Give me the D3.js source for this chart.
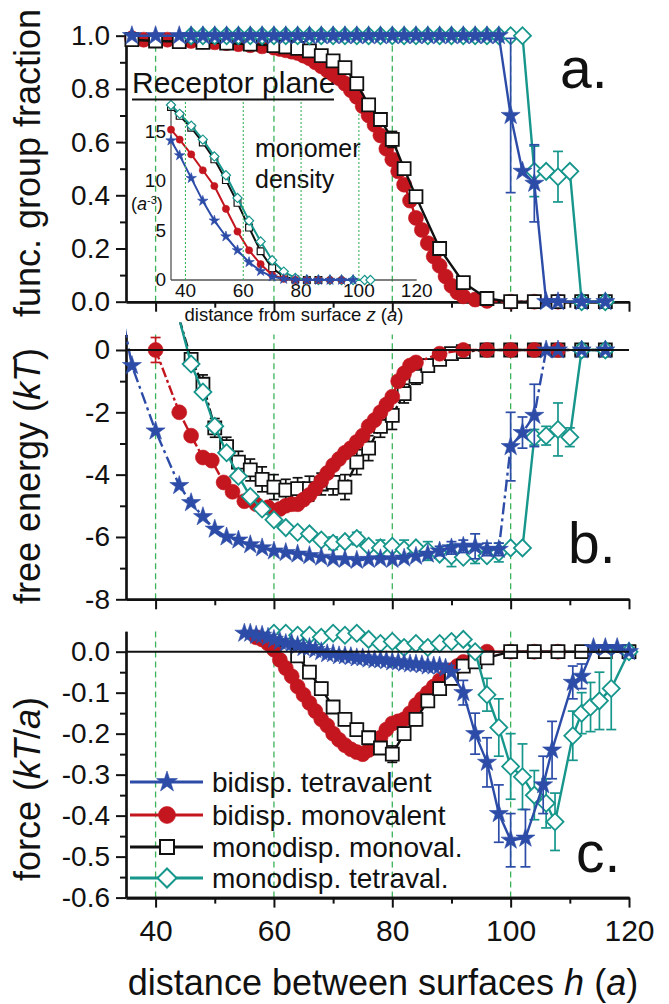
<!DOCTYPE html>
<html><head><meta charset="utf-8">
<script src="https://cdn.jsdelivr.net/npm/d3@7/dist/d3.min.js"></script>
<style>
html,body{margin:0;padding:0;background:#fff;}
svg{display:block;font-family:"Liberation Sans",Arial,Helvetica,sans-serif;}
</style></head>
<body>
<svg id="chart" width="669" height="1004"></svg>
<script>
// ---------------- data ----------------
const LEGEND_LABELS = ["bidisp. tetravalent","bidisp. monovalent","monodisp. monoval.","monodisp. tetraval."];
const X_MAJOR = [40,60,80,100,120];
const X_MINOR = [50,70,90,110];
const GUIDES = [40,60,80,100];
const A_TICKS = [0,0.2,0.4,0.6,0.8,1.0];
const A_MINOR = [0.1,0.3,0.5,0.7,0.9];
const B_TICKS = [0,-2,-4,-6,-8];
const B_MINOR = [-1,-3,-5,-7];
const C_TICKS = [0,-0.1,-0.2,-0.3,-0.4,-0.5,-0.6];
const C_MINOR = [-0.05,-0.15,-0.25,-0.35,-0.45,-0.55];
const INSET_XTICKS = [40,60,80,100,120];
const INSET_YTICKS = [0,5,10,15];
const INSET_GUIDES = [40,60,80,100];

// panel a: functional group fraction  [h, value, err]
const A_BLUE = [[36,1],[40,1],[44,1],[46,1],[48,1],[50,1],[52,1],[54,1],[56,1],[58,1],[60,1],[62,1],[64,1],[66,1],[68,1],[70,1],[72,1],[74,1],[76,1],[78,1],[80,1],[82,1],[84,1],[86,1],[88,1],[90,1],[92,1],[94,1],[96,1],[98,1],[100,0.70,0.29],[102,0.49],[104,0.445,0.145],[106,0],[108,0],[112,0],[116,0]];
const A_TEAL = [[46,1],[48,1],[50,1],[52,1],[54,1],[56,1],[58,1],[60,1],[62,1],[64,1],[66,1],[68,1],[70,1],[72,1],[74,1],[76,1],[78,1],[80,1],[82,1],[84,1],[86,1],[88,1],[90,1],[92,1],[94,1],[96,1],[98,1],[100,1],[102,1],[104,0.49,0.095],[106,0.49],[108,0.47,0.095],[110,0.49],[112,0],[116,0]];
const A_RED = [[36,0.99],[38,0.985],[40,0.985],[42,0.985],[44,0.98],[46,0.98],[48,0.978],[50,0.975],[52,0.972],[54,0.968],[56,0.964],[58,0.96],[60,0.955],[61,0.95],[62,0.945],[63,0.94],[64,0.935],[65,0.925],[66,0.915],[67,0.9],[68,0.885],[69,0.87],[70,0.855],[71,0.84],[72,0.82],[73,0.795],[74,0.77],[75,0.735],[76,0.7],[77,0.665],[78,0.625],[79,0.575],[80,0.535],[81,0.49],[82,0.44],[83,0.38],[84,0.315],[85,0.27],[86,0.22],[87,0.17],[88,0.135],[89,0.095],[90,0.06],[91,0.035],[92,0.02],[94,0.008],[96,0.003],[100,0],[104,0],[108,0]];
const A_BLACK = [[36,0.985],[40,0.98],[44,0.978],[48,0.975],[52,0.972],[56,0.968],[60,0.963],[62,0.958],[64,0.952],[66,0.943],[68,0.925],[70,0.905],[72,0.88],[74,0.82],[76,0.74],[78,0.685],[80,0.61,0.03],[82,0.5],[84,0.395,0.02],[88,0.2],[92,0.072],[96,0.012],[100,0],[104,0],[108,0],[112,0],[116,0]];

// inset: monomer density
const I_BLUE = [[35,14.1],[38,12.6],[42,10.3],[46,8.0],[50,6.0],[54,4.4],[58,3.0],[62,1.8],[66,0.9],[70,0.35],[74,0.1],[78,0.02],[82,0],[86,0],[90,0],[94,0],[98,0]];
const I_RED = [[35,15.2],[38,14.2],[42,12.7],[46,11.1],[50,9.5],[54,7.2],[58,4.9],[62,3.0],[66,1.6],[70,0.5],[74,0.12],[78,0.02],[82,0],[86,0],[90,0],[94,0]];
const I_BLACK = [[35,17.5],[38,16.6],[42,15.4],[46,13.9],[50,12.2],[54,10.1],[58,7.8],[62,5.3],[66,2.9],[70,1.2],[74,0.35],[78,0.06],[82,0],[86,0]];
const I_TEAL = [[35,17.7],[38,16.8],[42,15.6],[46,14.2],[50,12.5],[54,10.6],[58,8.3],[62,6.0],[66,3.9],[70,2.0],[74,0.85],[78,0.2],[82,0.03],[86,0],[90,0],[94,0],[98,0],[102,0],[104,0]];

// panel b: free energy
const B_BLUE = [[34,1.5],[36,-0.5],[40,-2.6],[44,-4.35],[46,-4.9],[48,-5.35],[50,-5.75],[52,-6.0],[54,-6.1],[56,-6.25],[58,-6.35],[60,-6.45],[62,-6.5],[64,-6.55],[66,-6.6],[68,-6.65],[70,-6.7],[72,-6.72],[74,-6.75],[76,-6.72],[78,-6.7],[80,-6.72],[82,-6.68],[84,-6.62],[86,-6.55],[88,-6.45,0.15],[90,-6.35,0.2],[92,-6.3,0.2],[94,-6.3,0.4],[96,-6.4,0.2],[98,-6.4,0.2],[100,-3.1,1.1],[102,-2.65,0.5],[104,-2.1,1.0],[106,0],[108,0],[112,0],[116,0]];
const B_TEAL = [[44,1.0],[46,-0.45],[48,-1.35],[50,-2.45],[52,-3.3],[54,-4.05],[56,-4.7],[58,-5.1],[60,-5.45],[62,-5.7],[64,-5.85],[66,-5.9],[68,-6.1],[70,-6.2,0.2],[72,-6.15],[74,-6.05,0.2],[76,-6.3],[78,-6.35,0.25],[80,-6.3],[82,-6.4,0.3],[84,-6.35],[86,-6.45,0.3],[88,-6.55],[90,-6.6,0.35],[92,-6.65],[94,-6.55,0.3],[96,-6.6],[98,-6.5,0.3],[100,-6.35],[102,-6.35],[104,-2.8,0.25],[106,-2.75,0.3],[108,-2.55,0.85],[110,-2.8,0.3],[112,0],[116,0]];
const B_BLACK = [[44,1.0],[46,-0.3,0.2],[48,-1.1,0.3],[50,-2.5,0.3],[52,-3.1,0.3],[54,-3.6,0.35],[56,-3.85,0.35],[58,-4.15,0.4],[60,-4.4,0.4],[62,-4.5,0.35],[64,-4.45,0.35],[66,-4.45,0.4],[68,-4.3,0.35],[70,-4.25,0.4],[72,-4.4,0.4],[74,-3.6,0.4],[76,-3.15,0.4],[78,-2.45,0.35],[80,-2.1,0.45],[82,-1.4,0.3],[84,-0.85,0.25],[86,-0.5,0.2],[88,-0.3,0.15],[90,-0.12],[92,-0.05],[96,0],[100,0],[104,0],[108,0],[112,0],[116,0]];
const B_RED = [[40,0,0.4],[44,-2.0],[46,-2.75],[48,-3.45],[49.5,-3.55],[51.5,-4.25],[53,-4.55],[55,-4.85],[57,-4.95],[59,-5.05],[61,-5.1],[62,-5.0],[63,-4.95],[64,-4.95],[65,-4.8],[66,-4.65],[67,-4.45],[68,-4.2],[69,-3.95],[70,-3.7],[71,-3.5],[72,-3.3],[73,-3.15],[74,-2.95],[75,-2.75],[76,-2.45],[77,-2.25],[78,-2.0],[79,-1.75],[80,-1.5],[81,-1.0],[82,-0.75],[83,-0.5],[84,-0.4],[88,-0.12],[92,0],[96,0],[100,0],[104,0],[108,0]];

// panel c: force
const C_BLUE = [[55,0.045],[56,0.045],[57,0.04],[58,0.04],[59,0.035],[60,0.03],[61,0.025],[62,0.02],[63,0.02],[64,0.015],[65,0.01],[66,0.01],[67,0.005],[68,0],[69,-0.005],[70,-0.005],[71,-0.01],[72,-0.01],[73,-0.012],[74,-0.015],[75,-0.015],[76,-0.018],[77,-0.02],[78,-0.02],[79,-0.022],[80,-0.025],[81,-0.025],[82,-0.028],[83,-0.03],[84,-0.03],[85,-0.032],[86,-0.035],[87,-0.035],[88,-0.035],[89,-0.04],[90,-0.05],[92,-0.1,0.03],[94,-0.2,0.05],[96,-0.27,0.06],[98,-0.395,0.07],[100,-0.46,0.065],[102.5,-0.455,0.07],[105.5,-0.325,0.07],[107,-0.24,0.07],[110.5,-0.075,0.04],[112,-0.06,0.03],[114,0.01],[116,0.01],[118,0.01],[120,0]];
const C_TEAL = [[60,0.045],[62,0.045],[64,0.04],[66,0.04],[68,0.035],[70,0.045],[72,0.04],[74,0.045],[76,0.03],[78,0.02],[80,0.025],[82,0.01],[84,0.02],[86,0.01],[88,0.02],[90,0.025],[92,0.03],[94,0],[96,-0.105,0.04],[98,-0.185,0.07],[100,-0.28,0.08],[102,-0.305,0.08],[104,-0.35,0.06],[106,-0.37,0.06],[107.5,-0.415,0.07],[110.5,-0.205,0.06],[112,-0.15,0.05],[113.5,-0.135,0.06],[115,-0.12,0.07],[117,-0.09,0.1],[120,0]];
const C_BLACK = [[62,0.03],[64,-0.01,0.015],[66,-0.05,0.015],[68,-0.09,0.015],[70,-0.135,0.015],[72,-0.165,0.015],[74,-0.19,0.015],[76,-0.21,0.015],[78,-0.235,0.015],[80,-0.25,0.02],[82,-0.2,0.015],[84,-0.165,0.015],[86,-0.12,0.015],[88,-0.09,0.015],[90,-0.065,0.015],[92,-0.035],[94,-0.025],[96,-0.015],[100,0],[104,0],[108,0],[112,0],[116,0],[120,0]];
const C_RED = [[57,0.035],[58,0.03],[59,0.02],[60,0.005],[61,-0.02],[62,-0.04],[63,-0.06],[64,-0.085],[65,-0.105],[66,-0.125],[67,-0.145],[68,-0.165],[69,-0.18],[70,-0.2],[71,-0.215],[72,-0.228],[73,-0.238],[74,-0.245],[75,-0.25],[76,-0.24],[77,-0.225],[78,-0.21],[79,-0.19],[80,-0.175],[81,-0.17],[82,-0.165],[83,-0.15],[84,-0.13],[85,-0.115],[86,-0.1],[87,-0.085],[88,-0.07],[89,-0.06],[90,-0.045],[91,-0.035],[92,-0.025],[94,-0.01],[96,0],[100,0],[104,0],[108,0]];

// ---------------- drawing ----------------
const svg = d3.select("#chart");
const defs = svg.append("defs");
const FONT = '"Liberation Sans",Arial,Helvetica,sans-serif';
const STYLE = {
  blue:{color:"#2c4ca8", shape:"star", fill:"#2c4ca8"},
  red:{color:"#c4161f", shape:"circle", fill:"#c4161f"},
  black:{color:"#111111", shape:"square", fill:"#ffffff"},
  teal:{color:"#17968c", shape:"diamond", fill:"#ffffff"}
};
const GREEN = "#3bb35a";

const x = d3.scaleLinear().domain([35,120]).range([126,629]);
const yA = d3.scaleLinear().domain([0,1.015]).range([301.7,31.7]);
const yB = d3.scaleLinear().domain([-8,0.5]).range([599.3,334.4]);
const yC = d3.scaleLinear().domain([-0.6,0.05]).range([897.6,631.2]);
const xi = d3.scaleLinear().domain([35,120]).range([171,416.7]);
const yi = d3.scaleLinear().domain([0,18]).range([280,102]);

function symPath(shape, r){
  if(shape==="star") return d3.symbol(d3.symbolStar, r*r/0.8908130915292852)();
  if(shape==="circle") return d3.symbol(d3.symbolCircle, Math.PI*r*r)();
  if(shape==="square") return d3.symbol(d3.symbolSquare, 4*r*r)();
  return d3.symbol(d3.symbolSquare, 2*r*r)(); // diamond = rotated square, r = half diagonal
}
const R_MAIN = {star:10, circle:7.5, square:6.5, diamond:8.5};
const R_INSET = {star:5.5, circle:3.6, square:3.4, diamond:4.6};
const R_LEG = {star:11, circle:8.5, square:7, diamond:9.5};

function addClip(id, xs, ys){
  const [x0,x1] = xs.range(); const [y0,y1] = ys.range();
  defs.append("clipPath").attr("id",id).append("rect")
    .attr("x",x0).attr("y",Math.min(y0,y1)-12).attr("width",x1-x0+8).attr("height",Math.abs(y0-y1)+24);
}

function drawSeries(g, data, xs, ys, key, o){
  const st = STYLE[key];
  const line = d3.line().x(d=>xs(d[0])).y(d=>ys(d[1]));
  g.append("path").attr("d", line(data)).attr("fill","none")
    .attr("stroke", st.color).attr("stroke-width", o.lw)
    .attr("stroke-dasharray", o.dash || null)
    .attr("stroke-linejoin","round")
    .attr("clip-path", o.clip ? `url(#${o.clip})` : null);
  const [dx0,dx1] = xs.domain(); const [dy0,dy1] = ys.domain();
  const vis = data.filter(d => d[0]>=dx0 && d[0]<=dx1 && d[1]>=Math.min(dy0,dy1) && d[1]<=Math.max(dy0,dy1));
  const cap = o.cap || 5;
  vis.filter(d => d[2]).forEach(d => {
    const xx = xs(d[0]), ya = ys(d[1]-d[2]), yb = ys(d[1]+d[2]);
    const eb = g.append("g").attr("stroke", st.color).attr("stroke-width", 1.7);
    eb.append("line").attr("x1",xx).attr("x2",xx).attr("y1",ya).attr("y2",yb);
    eb.append("line").attr("x1",xx-cap).attr("x2",xx+cap).attr("y1",ya).attr("y2",ya);
    eb.append("line").attr("x1",xx-cap).attr("x2",xx+cap).attr("y1",yb).attr("y2",yb);
  });
  const r = o.r[st.shape];
  g.selectAll(null).data(vis).join("path")
    .attr("d", symPath(st.shape, r))
    .attr("transform", d => `translate(${xs(d[0])},${ys(d[1])})` + (st.shape==="diamond" ? " rotate(45)" : ""))
    .attr("fill", st.fill)
    .attr("stroke", st.color)
    .attr("stroke-width", st.shape==="square"||st.shape==="diamond" ? o.msw : 0.6);
}

function drawAxes(ys, majors, minors, fmt, showX){
  const y0 = ys.range()[0];
  const gy = svg.append("g").attr("transform","translate(126,0)");
  gy.call(d3.axisLeft(ys).tickValues(majors).tickSize(10).tickSizeOuter(0).tickPadding(6).tickFormat(fmt));
  gy.append("g").call(d3.axisLeft(ys).tickValues(minors).tickSize(6).tickSizeOuter(0).tickFormat(""));
  gy.selectAll("path.domain").attr("stroke","#111").attr("stroke-width",2.2);
  gy.selectAll(".tick line").attr("stroke","#111").attr("stroke-width",2);
  gy.selectAll("text").attr("font-size",28).attr("font-family",FONT).attr("fill","#111");
  const gx = svg.append("g").attr("transform",`translate(0,${y0})`);
  gx.call(d3.axisBottom(x).tickValues(X_MAJOR).tickSize(10).tickSizeOuter(0).tickPadding(12)
    .tickFormat(showX ? d3.format("d") : ""));
  gx.append("g").call(d3.axisBottom(x).tickValues(X_MINOR).tickSize(6).tickSizeOuter(0).tickFormat(""));
  gx.selectAll("path.domain").attr("stroke","#111").attr("stroke-width",2.6);
  gx.selectAll(".tick line").attr("stroke","#111").attr("stroke-width",2);
  gx.selectAll("text").attr("font-size",30).attr("font-family",FONT).attr("fill","#111");
}

function drawGuides(xs, ys, vals, dash, w){
  const [yb, yt] = ys.range();
  vals.forEach(v => svg.append("line").attr("x1",xs(v)).attr("x2",xs(v)).attr("y1",yb).attr("y2",yt)
    .attr("stroke",GREEN).attr("stroke-width",w).attr("stroke-dasharray",dash));
}
function zeroLine(ys){
  svg.append("line").attr("x1",x(35)).attr("x2",x(120)).attr("y1",ys(0)).attr("y2",ys(0))
    .attr("stroke","#111").attr("stroke-width",2);
}
function richText(parent, parts, attrs){
  const t = parent.append("text").attr("font-family",FONT);
  Object.entries(attrs).forEach(([k,v]) => t.attr(k,v));
  parts.forEach(p => {
    const s = t.append("tspan").text(p.t);
    if(p.i) s.attr("font-style","italic");
    if(p.sup) s.attr("baseline-shift","super").attr("font-size", p.sup);
  });
  return t;
}

const fmtA = d => d.toFixed(1);
const fmtB = d => String(d);
const fmtC = d => d.toFixed(1);

addClip("clipA", x, yA); addClip("clipB", x, yB); addClip("clipC", x, yC);

// ---------- panel a ----------
drawGuides(x, yA, GUIDES, "6,4", 1.3);
drawAxes(yA, A_TICKS, A_MINOR, fmtA, false);

// inset
const gi = svg.append("g");
drawGuides(xi, yi, INSET_GUIDES, "2,2", 1.1);
gi.append("line").attr("x1",xi(35)).attr("x2",xi(35)).attr("y1",yi(0)).attr("y2",yi(18)).attr("stroke","#555").attr("stroke-width",1.3);
gi.append("line").attr("x1",xi(35)).attr("x2",xi(120)).attr("y1",yi(0)).attr("y2",yi(0)).attr("stroke","#555").attr("stroke-width",1.3);
INSET_XTICKS.forEach(v => gi.append("text").attr("x",xi(v)).attr("y",297).attr("text-anchor","middle")
  .attr("font-size",19).attr("font-family",FONT).attr("fill","#111").text(v));
INSET_YTICKS.forEach(v => gi.append("text").attr("x",166).attr("y",yi(v)+6).attr("text-anchor","end")
  .attr("font-size",19).attr("font-family",FONT).attr("fill","#111").text(v));
const iopt = {lw:2, r:R_INSET, msw:1.2, cap:3};
drawSeries(gi, I_BLACK, xi, yi, "black", iopt);
drawSeries(gi, I_TEAL, xi, yi, "teal", iopt);
drawSeries(gi, I_RED, xi, yi, "red", iopt);
drawSeries(gi, I_BLUE, xi, yi, "blue", iopt);
richText(gi, [{t:"("},{t:"a",i:true},{t:"-3",sup:11},{t:")"}], {x:131, y:210, "font-size":18, fill:"#111"});
richText(gi, [{t:"distance from surface "},{t:"z",i:true},{t:" ("},{t:"a",i:true},{t:")"}],
  {x:294, y:321, "font-size":18.5, fill:"#111", "text-anchor":"middle"});
gi.append("text").attr("x",255).attr("y",157).attr("font-size",25).attr("font-family",FONT).attr("fill","#111").text("monomer");
gi.append("text").attr("x",255).attr("y",188).attr("font-size",25).attr("font-family",FONT).attr("fill","#111").text("density");
gi.append("text").attr("x",132).attr("y",93).attr("font-size",30).attr("font-family",FONT).attr("fill","#111").text("Receptor plane");
gi.append("line").attr("x1",132).attr("x2",334).attr("y1",99.5).attr("y2",99.5).attr("stroke","#111").attr("stroke-width",2);

const ga = svg.append("g");
const mopt = (dash) => ({lw:2.4, r:R_MAIN, msw:1.8, cap:5, clip:"clipA", dash});
drawSeries(ga, A_RED, x, yA, "red", mopt("10,3,3,3"));
drawSeries(ga, A_BLACK, x, yA, "black", mopt(null));
drawSeries(ga, A_TEAL, x, yA, "teal", mopt(null));
drawSeries(ga, A_BLUE, x, yA, "blue", mopt(null));

// ---------- panel b ----------
drawGuides(x, yB, GUIDES, "6,4", 1.3);
drawAxes(yB, B_TICKS, B_MINOR, fmtB, false);
const gb = svg.append("g");
const bopt = (dash) => ({lw:2.4, r:R_MAIN, msw:1.8, cap:5, clip:"clipB", dash});
drawSeries(gb, B_BLACK, x, yB, "black", bopt("10,3,3,3"));
drawSeries(gb, B_RED, x, yB, "red", bopt("10,3,3,3"));
drawSeries(gb, B_TEAL, x, yB, "teal", bopt(null));
drawSeries(gb, B_BLUE, x, yB, "blue", bopt("12,4,3,4"));
zeroLine(yB);

// ---------- panel c ----------
drawGuides(x, yC, GUIDES, "6,4", 1.3);
drawAxes(yC, C_TICKS, C_MINOR, fmtC, true);
const gc = svg.append("g");
const copt = (dash) => ({lw:2.4, r:R_MAIN, msw:1.8, cap:5, clip:"clipC", dash});
drawSeries(gc, C_RED, x, yC, "red", copt(null));
drawSeries(gc, C_BLACK, x, yC, "black", copt(null));
drawSeries(gc, C_TEAL, x, yC, "teal", copt(null));
drawSeries(gc, C_BLUE, x, yC, "blue", copt(null));
zeroLine(yC);

// legend
const LEG_KEYS = ["blue","red","black","teal"];
const LEG_Y = [782, 815, 847, 878];
const gl = svg.append("g");
LEG_KEYS.forEach((k,i) => {
  const st = STYLE[k], yy = LEG_Y[i];
  gl.append("line").attr("x1",130).attr("x2",203).attr("y1",yy).attr("y2",yy).attr("stroke",st.color).attr("stroke-width",3);
  gl.append("path").attr("d", symPath(st.shape, R_LEG[st.shape]))
    .attr("transform", `translate(167,${yy})` + (st.shape==="diamond" ? " rotate(45)" : ""))
    .attr("fill", st.fill).attr("stroke", st.color).attr("stroke-width", st.shape==="square"||st.shape==="diamond" ? 2 : 0.6);
  gl.append("text").attr("x",212).attr("y",yy+10).attr("font-size",28).attr("font-family",FONT).attr("fill","#111").text(LEGEND_LABELS[i]);
});

// panel letters
[["a.",560,88],["b.",568,563],["c.",576,872]].forEach(([t,xx,yy]) =>
  svg.append("text").attr("x",xx).attr("y",yy).attr("font-size",57).attr("font-family",FONT).attr("fill","#111").text(t));

// axis titles
richText(svg, [{t:"func. group fraction"}], {transform:"translate(40,163) rotate(-90)", "text-anchor":"middle", "font-size":36, fill:"#111"});
richText(svg, [{t:"free energy ("},{t:"kT",i:true},{t:")"}], {transform:"translate(40,476) rotate(-90)", "text-anchor":"middle", "font-size":36, fill:"#111"});
richText(svg, [{t:"force ("},{t:"kT",i:true},{t:"/"},{t:"a",i:true},{t:")"}], {transform:"translate(40,789) rotate(-90)", "text-anchor":"middle", "font-size":36, fill:"#111"});
richText(svg, [{t:"distance between surfaces "},{t:"h",i:true},{t:" ("},{t:"a",i:true},{t:")"}], {x:383, y:995, "text-anchor":"middle", "font-size":36, fill:"#111"});
</script>
</body></html>
